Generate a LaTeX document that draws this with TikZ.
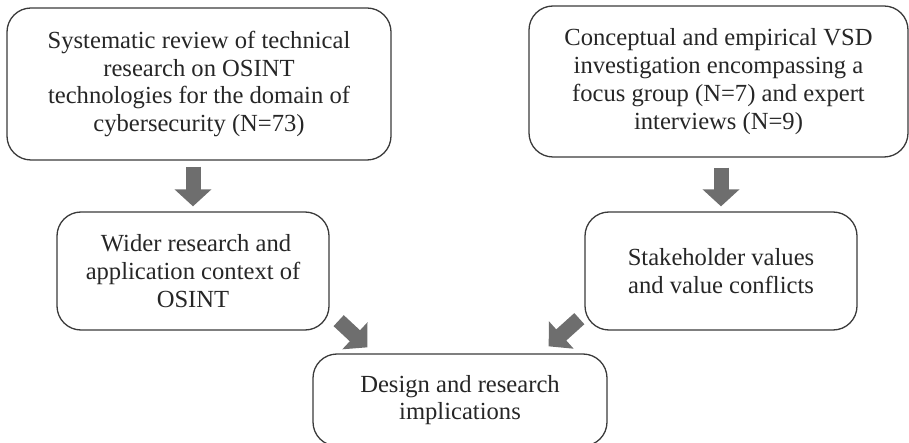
\documentclass[tikz,border=0pt]{standalone}
\usepackage{fontspec}
\setmainfont{Liberation Serif}
\usetikzlibrary{arrows.meta,calc}
\definecolor{boxline}{HTML}{3A3A3A}
\definecolor{arrowgray}{HTML}{6E6E6E}
\newcommand{\boxfont}{\fontsize{24.6}{27.8}\selectfont}
\begin{document}
\begin{tikzpicture}[x=1pt,y=-1pt]
      \useasboundingbox (0,0) rectangle (909,443);
      \begin{scope}[every node/.style={draw=boxline,line width=1.3pt,rounded corners=24pt,align=center,font=\boxfont,text=black!85}]
        \node[minimum width=384pt,minimum height=152pt] (sysrev) at (199,84) {Systematic review of technical\\research on OSINT\\technologies for the domain of\\cybersecurity (N=73)};
        \node[minimum width=379pt,minimum height=151pt] (vsd) at (718.5,81.5) {Conceptual and empirical VSD\\investigation encompassing a\\focus group (N=7) and expert\\interviews (N=9)};
        \node[minimum width=272pt,minimum height=118pt] (context) at (193,271) {\ Wider research and\\application context of\\OSINT};
        \node[minimum width=272pt,minimum height=118pt] (values) at (721,271) {Stakeholder values\\and value conflicts};
        \node[minimum width=294pt,minimum height=92pt] (implic) at (460,400) {Design and research\\implications};
      \end{scope}
      \begin{scope}[every edge/.style={draw=arrowgray,line width=15pt,-{Triangle[width=36pt,length=17pt]}}]
        \path (context.north |- sysrev.south) edge[shorten <=6pt,shorten >=5pt] (context.north);
        \path (values.north |- vsd.south) edge[shorten <=10pt,shorten >=5pt] (values.north);
        \path ($(context.south east)+(9,-10)$) edge ($(implic.north west)+(55,-6)$);
        \path ($(values.south west)+(-5,-12)$) edge ($(implic.north east)+(-59,-7)$);
      \end{scope}
    \end{tikzpicture}
\end{document}
